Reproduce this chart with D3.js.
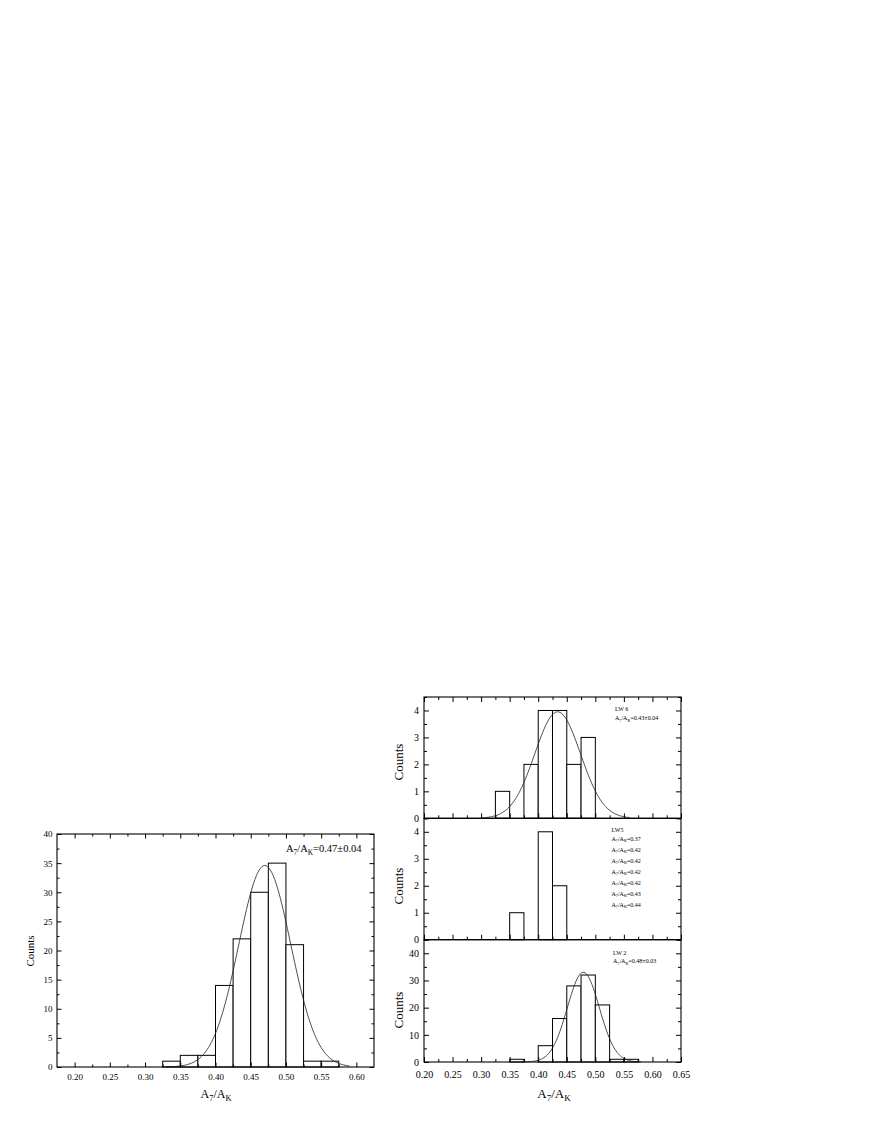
<!DOCTYPE html>
<html><head><meta charset="utf-8">
<script src="https://cdn.jsdelivr.net/npm/d3@7"></script>
<style>
body{margin:0;background:#fff}
text{font-family:"Liberation Serif","Times New Roman",serif;fill:#000}
</style></head>
<body><svg id="c" width="872" height="1128"></svg>
<script>
// ---------- data ----------
const binWidth = 0.025;
// Left panel (all)
const allBinStarts = [0.325,0.35,0.375,0.40,0.425,0.45,0.475,0.50,0.525,0.55];
const allCounts    = [1,2,2,14,22,30,35,21,1,1];
const allFit       = [34.6, 0.470, 0.037];   // amplitude, mean, sigma
const allFitRange  = [0.33, 0.59];
// LW 6
const lw6BinStarts = [0.325,0.375,0.40,0.425,0.45,0.475];
const lw6Counts    = [1,2,4,4,2,3];
const lw6Fit       = [3.95, 0.434, 0.040];
const lw6FitRange  = [0.30, 0.56];
// LW 5
const lw5BinStarts = [0.35,0.40,0.425];
const lw5Counts    = [1,4,2];
const lw5Values    = ["0.37","0.42","0.42","0.42","0.42","0.43","0.44"];
// LW 2
const lw2BinStarts = [0.35,0.40,0.425,0.45,0.475,0.50,0.525,0.55];
const lw2Counts    = [1,6,16,28,32,21,1,1];
const lw2Fit       = [33.0, 0.479, 0.028];
const lw2FitRange  = [0.37, 0.58];
// tick labels
const leftXTicks  = [0.20,0.25,0.30,0.35,0.40,0.45,0.50,0.55,0.60];
const leftYTicks  = [0,5,10,15,20,25,30,35,40];
const rightXTicks = [0.20,0.25,0.30,0.35,0.40,0.45,0.50,0.55,0.60,0.65];
const smallYTicks = [0,1,2,3,4];
const lw2YTicks   = [0,10,20,30,40];

const svg = d3.select("#c");
const fmt2 = d3.format(".2f");

function axisLabel(sel, size){
  sel.append("tspan").text("A");
  sel.append("tspan").attr("font-size", size*0.7).attr("dy", size*0.25).text("7");
  sel.append("tspan").attr("dy", -size*0.25).text("/A");
  sel.append("tspan").attr("font-size", size*0.7).attr("dy", size*0.25).text("K");
  return sel;
}
function ratioText(g, x, y, size, value){
  const t = g.append("text").attr("x", x).attr("y", y).attr("font-size", size);
  axisLabel(t, size);
  t.append("tspan").attr("dy", -size*0.25).text("=" + value);
  return t;
}

function panel(o){
  const g = svg.append("g");
  const x = d3.scaleLinear().domain(o.xDom).range([o.x0, o.x1]);
  const y = d3.scaleLinear().domain(o.yDom).range([o.y1, o.y0]);
  g.selectAll("rect.bar").data(o.starts).join("rect")
    .attr("x", d => x(d)).attr("width", d => x(d + binWidth) - x(d))
    .attr("y", (d,i) => y(o.counts[i])).attr("height", (d,i) => y(0) - y(o.counts[i]))
    .attr("fill", "#fff").attr("stroke", "#000").attr("stroke-width", 1);
  if (o.fit){
    const [A, mu, s] = o.fit;
    const pts = d3.range(o.fitRange[0], o.fitRange[1] + 1e-9, 0.002);
    g.append("path").datum(pts)
      .attr("d", d3.line().x(d => x(d)).y(d => y(A * Math.exp(-((d-mu)*(d-mu))/(2*s*s)))))
      .attr("fill", "none").attr("stroke", "#222").attr("stroke-width", 0.8);
  }
  const rm = s => s.select(".domain").remove();
  const M = o.major, m = o.minor;
  g.append("g").attr("transform", `translate(0,${o.y1})`)
    .call(d3.axisBottom(x).tickValues(o.xMajor).tickSize(-M).tickPadding(o.xPad)
      .tickFormat(o.xLabels ? fmt2 : ""))
    .call(rm).call(s => s.selectAll("text").attr("font-size", o.font).attr("font-family", null).attr("fill", "#000"));
  g.append("g").attr("transform", `translate(0,${o.y1})`)
    .call(d3.axisBottom(x).tickValues(o.xMinor).tickSize(-m).tickFormat("")).call(rm);
  if (o.topTicks){
    g.append("g").attr("transform", `translate(0,${o.y0})`)
      .call(d3.axisTop(x).tickValues(o.xMajor).tickSize(-M).tickFormat("")).call(rm);
    g.append("g").attr("transform", `translate(0,${o.y0})`)
      .call(d3.axisTop(x).tickValues(o.xMinor).tickSize(-m).tickFormat("")).call(rm);
  }
  g.append("g").attr("transform", `translate(${o.x0},0)`)
    .call(d3.axisLeft(y).tickValues(o.yMajor).tickSize(-M).tickPadding(o.yPad).tickFormat(d3.format("d")))
    .call(rm).call(s => s.selectAll("text").attr("font-size", o.font).attr("font-family", null).attr("fill", "#000"));
  g.append("g").attr("transform", `translate(${o.x0},0)`)
    .call(d3.axisLeft(y).tickValues(o.yMinor).tickSize(-m).tickFormat("")).call(rm);
  g.append("g").attr("transform", `translate(${o.x1},0)`)
    .call(d3.axisRight(y).tickValues(o.yMajor).tickSize(-M).tickFormat("")).call(rm);
  g.append("g").attr("transform", `translate(${o.x1},0)`)
    .call(d3.axisRight(y).tickValues(o.yMinor).tickSize(-m).tickFormat("")).call(rm);
  g.append("rect").attr("x", o.x0).attr("y", o.y0).attr("width", o.x1 - o.x0).attr("height", o.y1 - o.y0)
    .attr("fill", "none").attr("stroke", "#000").attr("stroke-width", 1.1);
  g.append("text").attr("transform", `translate(${o.ytX},${o.ytY}) rotate(-90)`)
    .attr("text-anchor", "middle").attr("font-size", o.ytSize).text("Counts");
  return {g, x, y};
}

const minorOf = (a, step) => a.map(v => +(v + step).toFixed(4));

// ---------- left panel ----------
const L = panel({
  x0: 57, x1: 374, y0: 834, y1: 1067, xDom: [0.175, 0.625], yDom: [0, 40],
  starts: allBinStarts, counts: allCounts, fit: allFit, fitRange: allFitRange,
  xMajor: leftXTicks, xMinor: minorOf(leftXTicks, 0.025).filter(v => v < 0.625),
  yMajor: leftYTicks, yMinor: minorOf(leftYTicks.slice(0, -1), 2.5),
  major: 4.5, minor: 2.5, xLabels: true, topTicks: true, font: 9, xPad: 6.5, yPad: 4.5,
  ytX: 34, ytY: 951, ytSize: 11
});
ratioText(L.g, 286, 852, 10.5, "0.47±0.04");
axisLabel(svg.append("text").attr("x", 216).attr("y", 1098).attr("font-size", 12).attr("text-anchor", "middle"), 12);

// ---------- right panels ----------
const RX0 = 424, RX1 = 681;
const rTop = [697, 818.3, 939.7, 1062];
const rxMinor = minorOf(rightXTicks.slice(0, -1), 0.025);

const P6 = panel({
  x0: RX0, x1: RX1, y0: rTop[0], y1: rTop[1], xDom: [0.20, 0.65], yDom: [0, 4.5],
  starts: lw6BinStarts, counts: lw6Counts, fit: lw6Fit, fitRange: lw6FitRange,
  xMajor: rightXTicks, xMinor: rxMinor, yMajor: smallYTicks, yMinor: minorOf(smallYTicks, 0.5),
  major: 5, minor: 3, xLabels: false, topTicks: true, font: 10, xPad: 8.5, yPad: 5,
  ytX: 403, ytY: 762, ytSize: 13
});
P6.g.append("text").attr("x", 615).attr("y", 711).attr("font-size", 6).text("LW 6");
ratioText(P6.g, 615, 720, 6, "0.43±0.04");

const P5 = panel({
  x0: RX0, x1: RX1, y0: rTop[1], y1: rTop[2], xDom: [0.20, 0.65], yDom: [0, 4.5],
  starts: lw5BinStarts, counts: lw5Counts, fit: null,
  xMajor: rightXTicks, xMinor: rxMinor, yMajor: smallYTicks, yMinor: minorOf(smallYTicks, 0.5),
  major: 5, minor: 3, xLabels: false, topTicks: false, font: 10, xPad: 8.5, yPad: 5,
  ytX: 403, ytY: 886, ytSize: 13
});
P5.g.append("text").attr("x", 611.5).attr("y", 832).attr("font-size", 6).text("LW5");
lw5Values.forEach((v, i) => ratioText(P5.g, 611.5, 840.5 + i * 11, 6, v));

const P2 = panel({
  x0: RX0, x1: RX1, y0: rTop[2], y1: rTop[3], xDom: [0.20, 0.65], yDom: [0, 45],
  starts: lw2BinStarts, counts: lw2Counts, fit: lw2Fit, fitRange: lw2FitRange,
  xMajor: rightXTicks, xMinor: rxMinor, yMajor: lw2YTicks, yMinor: minorOf(lw2YTicks, 5),
  major: 5, minor: 3, xLabels: true, topTicks: false, font: 10, xPad: 8.5, yPad: 5,
  ytX: 403, ytY: 1010, ytSize: 13
});
P2.g.append("text").attr("x", 613).attr("y", 955).attr("font-size", 6).text("LW 2");
ratioText(P2.g, 613, 963, 6, "0.48±0.03");
axisLabel(svg.append("text").attr("x", 554).attr("y", 1098).attr("font-size", 13).attr("text-anchor", "middle"), 13);
</script></body></html>
